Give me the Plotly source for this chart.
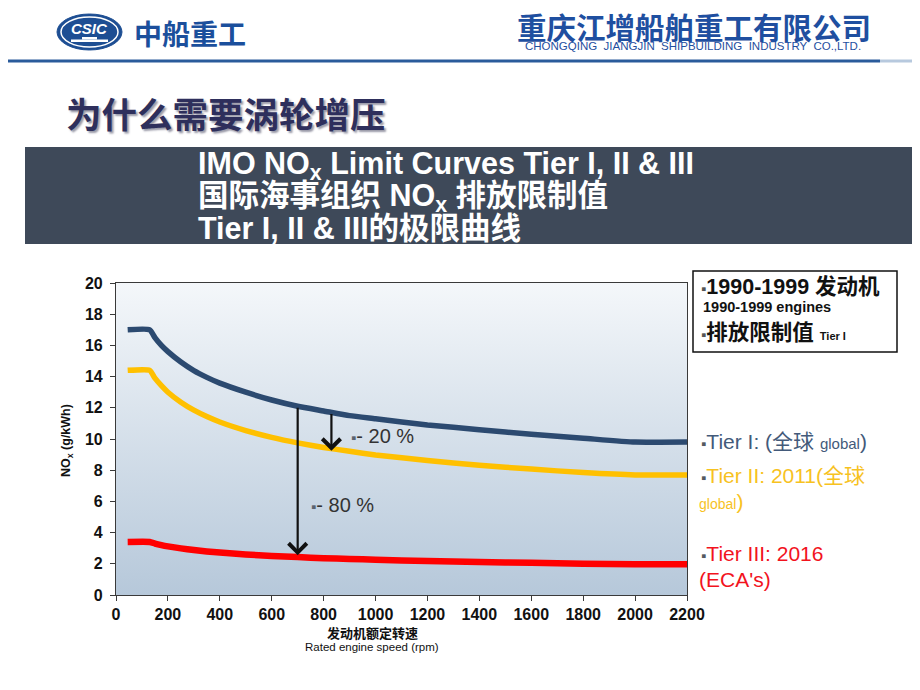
import plotly.graph_objects as go

# ---------------- data ----------------
speed_rpm = [45, 130, 150, 175, 200, 250, 300, 350, 400, 500, 600, 700, 800,
             900, 1000, 1200, 1400, 1600, 1800, 2000, 2200]
tier1_nox = [17.0, 17.0, 16.5, 16.0, 15.6, 14.93, 14.38, 13.95, 13.58, 13.0, 12.5,
             12.1, 11.8, 11.5, 11.3, 10.9, 10.6, 10.3, 10.05, 9.8, 9.8]
tier2_nox = [14.4, 14.4, 13.9, 13.42, 13.0, 12.36, 11.85, 11.44, 11.09, 10.54, 10.1,
             9.75, 9.46, 9.21, 8.98, 8.62, 8.32, 8.07, 7.85, 7.7, 7.7]
tier3_nox = [3.4, 3.4, 3.3, 3.2, 3.12, 2.99, 2.88, 2.79, 2.72, 2.6, 2.5,
             2.43, 2.36, 2.31, 2.26, 2.18, 2.11, 2.06, 2.01, 1.97, 1.97]
x_ticks = list(range(0, 2201, 200))
y_ticks = list(range(0, 21, 2))

# arrows: (speed, from value, to value)
arrow_80 = (700, 12.1, 2.55)
arrow_20 = (830, 11.7, 9.25)

# ---------------- layout geometry (window pixels) ----------------
W, H = 920, 690
OFF = 8                       # default page margin of the html body
PL, PR, PT, PB = 116, 687, 283, 595
SANS = "Liberation Sans, Arial, Noto Sans CJK SC, sans-serif"
CJK = "Noto Sans CJK SC, Liberation Sans, sans-serif"


def px(x):
    return (x - PL) / (PR - PL)


def py(y):
    return (PB - y) / (PB - PT)


def label(x, y, text, size, color, family=SANS, xanchor="left", **kw):
    d = dict(x=px(x), y=py(y), xref="paper", yref="paper", xanchor=xanchor,
             yanchor="middle", showarrow=False, text=text,
             font=dict(family=family, size=size, color=color))
    d.update(kw)
    return d


fig = go.Figure()

# gradient plot background
fig.add_trace(go.Scatter(
    x=[0, 2200, 2200, 0, 0], y=[0, 0, 20, 20, 0], mode="lines",
    line=dict(width=0), fill="toself",
    fillgradient=dict(type="vertical", start=0, stop=20,
                      colorscale=[[0, "#b6c8da"], [1, "#f4f7fa"]]),
    hoverinfo="skip", showlegend=False))

series = [
    (tier1_nox, "#2c4a70", 5.5),
    (tier2_nox, "#ffc000", 5.5),
    (tier3_nox, "#ff0000", 6.5),
]
for vals, col, w in series:
    fig.add_trace(go.Scatter(x=speed_rpm, y=vals, mode="lines",
                             line=dict(color=col, width=w, shape="spline", smoothing=0.5),
                             showlegend=False, hoverinfo="skip"))

ann = []
shapes = []

# arrows
for (xv, y0, y1) in (arrow_80, arrow_20):
    ann.append(dict(x=xv, y=y1, ax=xv, ay=y0, xref="x", yref="y",
                    axref="x", ayref="y", showarrow=True, arrowhead=4,
                    arrowsize=1.6, arrowwidth=2.2, arrowcolor="#111111", text=""))

bullet = "<span style='color:#5a6470;font-size:15px'>▪</span>"
ann.append(label(349, 436, bullet + "- 20 %", 20, "#333333"))
ann.append(label(309, 505, bullet + "- 80 %", 20, "#333333"))

# axis titles
ann.append(label(67, 441, "<b>NO<sub>x</sub> (g/kWh)</b>", 12.5, "#111111",
                 xanchor="center", textangle=-90))
ann.append(label(372, 632, "<b>发动机额定转速</b>", 13, "#111111", family=CJK,
                 xanchor="center"))
ann.append(label(372, 647, "Rated engine speed (rpm)", 11.5, "#111111",
                 xanchor="center"))

# legend box top right
shapes.append(dict(type="rect", xref="paper", yref="paper", x0=px(693), x1=px(897),
                   y0=py(352), y1=py(271), line=dict(color="#111111", width=1.5),
                   fillcolor="white"))
bl = "<span style='color:#555;font-size:15px'>▪</span>"
ann.append(label(699, 287, bl + "<b>1990-1999 发动机</b>", 21.5, "#111111"))
ann.append(label(701, 307, "<b>1990-1999 engines</b>", 14.5, "#111111"))
ann.append(label(699, 333, bl + "<b>排放限制值 <span style='font-size:11px'>Tier I</span></b>",
                 21.5, "#111111"))

# series labels on the right
rl = "<span style='color:#555a60;font-size:15px'>▪</span>"
ann.append(label(699, 441, rl + "Tier I: (全球 <span style='font-size:15px'>global</span>)",
                 21, "#435a7a"))
ann.append(label(699, 475, rl + "Tier II: 2011(全球", 21, "#f7c21f"))
ann.append(label(697, 501, "<span style='font-size:14px'>global</span>)", 21, "#f7c21f"))
ann.append(label(699, 553, rl + "Tier III: 2016", 21, "#f2131d"))
ann.append(label(697, 579, "(ECA's)", 21, "#f2131d"))

# ---------------- slide decoration ----------------
# header line
shapes.append(dict(type="line", xref="paper", yref="paper", x0=px(0), x1=px(880),
                   y0=py(61), y1=py(61), line=dict(color="#2a5b9b", width=3)))
shapes.append(dict(type="line", xref="paper", yref="paper", x0=px(880), x1=px(920),
                   y0=py(61), y1=py(61), line=dict(color="#b7c9de", width=3)))
# logo
shapes.append(dict(type="circle", xref="paper", yref="paper", x0=px(57), x1=px(122),
                   y0=py(50), y1=py(14), fillcolor="#1d4e93",
                   line=dict(color="#1d4e93", width=1)))
shapes.append(dict(type="circle", xref="paper", yref="paper", x0=px(61), x1=px(118),
                   y0=py(47), y1=py(17), line=dict(color="white", width=1.5)))
shapes.append(dict(type="rect", xref="paper", yref="paper", x0=px(71), x1=px(108),
                   y0=py(42), y1=py(39.5), fillcolor="white", line=dict(width=0)))
shapes.append(dict(type="rect", xref="paper", yref="paper", x0=px(82), x1=px(97),
                   y0=py(39.5), y1=py(37), fillcolor="white", line=dict(width=0)))
ann.append(label(89.5, 28, "<b><i>CSIC</i></b>", 15, "white", xanchor="center"))
ann.append(label(132, 33, "<b>中船重工</b>", 28, "#1b4f9c", family=CJK))
ann.append(label(694, 26, "<b>重庆江增船舶重工有限公司</b>", 29.5, "#1f4fa0",
                 family=CJK, xanchor="center"))
ann.append(label(693, 46, "CHONGQING  JIANGJIN  SHIPBUILDING  INDUSTRY  CO.,LTD.",
                 11.5, "#1f4fa0", xanchor="center"))

# heading
hd = label(64, 113, "<b>为什么需要涡轮增压</b>", 35.5, "#2e2f5c", family=CJK)
hd["font"]["shadow"] = "2px 2px 2px #9a9aa8"
ann.append(hd)

# banner
shapes.append(dict(type="rect", xref="paper", yref="paper", x0=px(25), x1=px(930),
                   y0=py(244), y1=py(147), fillcolor="#3e4959", line=dict(width=0)))
for txt, yy in (("IMO NO<sub>x</sub> Limit Curves Tier I, II &amp; III", 165),
                ("国际海事组织 NO<sub>x</sub> 排放限制值", 197),
                ("Tier I, II &amp; III的极限曲线", 228)):
    ann.append(label(196, yy, "<b>" + txt + "</b>", 30.5, "white"))

axis_common = dict(showgrid=False, zeroline=False, showline=True, mirror=True,
                   linecolor="#3a3a3a", linewidth=1.2, ticks="outside", ticklen=5,
                   tickcolor="#3a3a3a",
                   tickfont=dict(family=SANS, size=16, color="#111111", weight="bold"))

fig.update_layout(
    width=W, height=H,
    margin=dict(l=PL - OFF, r=W - (PR - OFF), t=PT - OFF, b=H - (PB - OFF), pad=0),
    paper_bgcolor="white", plot_bgcolor="white",
    xaxis=dict(range=[0, 2200], tickvals=x_ticks, **axis_common),
    yaxis=dict(range=[0, 20], tickvals=y_ticks, ticklabelstandoff=4, **axis_common),
    annotations=ann, shapes=shapes, showlegend=False,
)

fig.write_html("out.html")
